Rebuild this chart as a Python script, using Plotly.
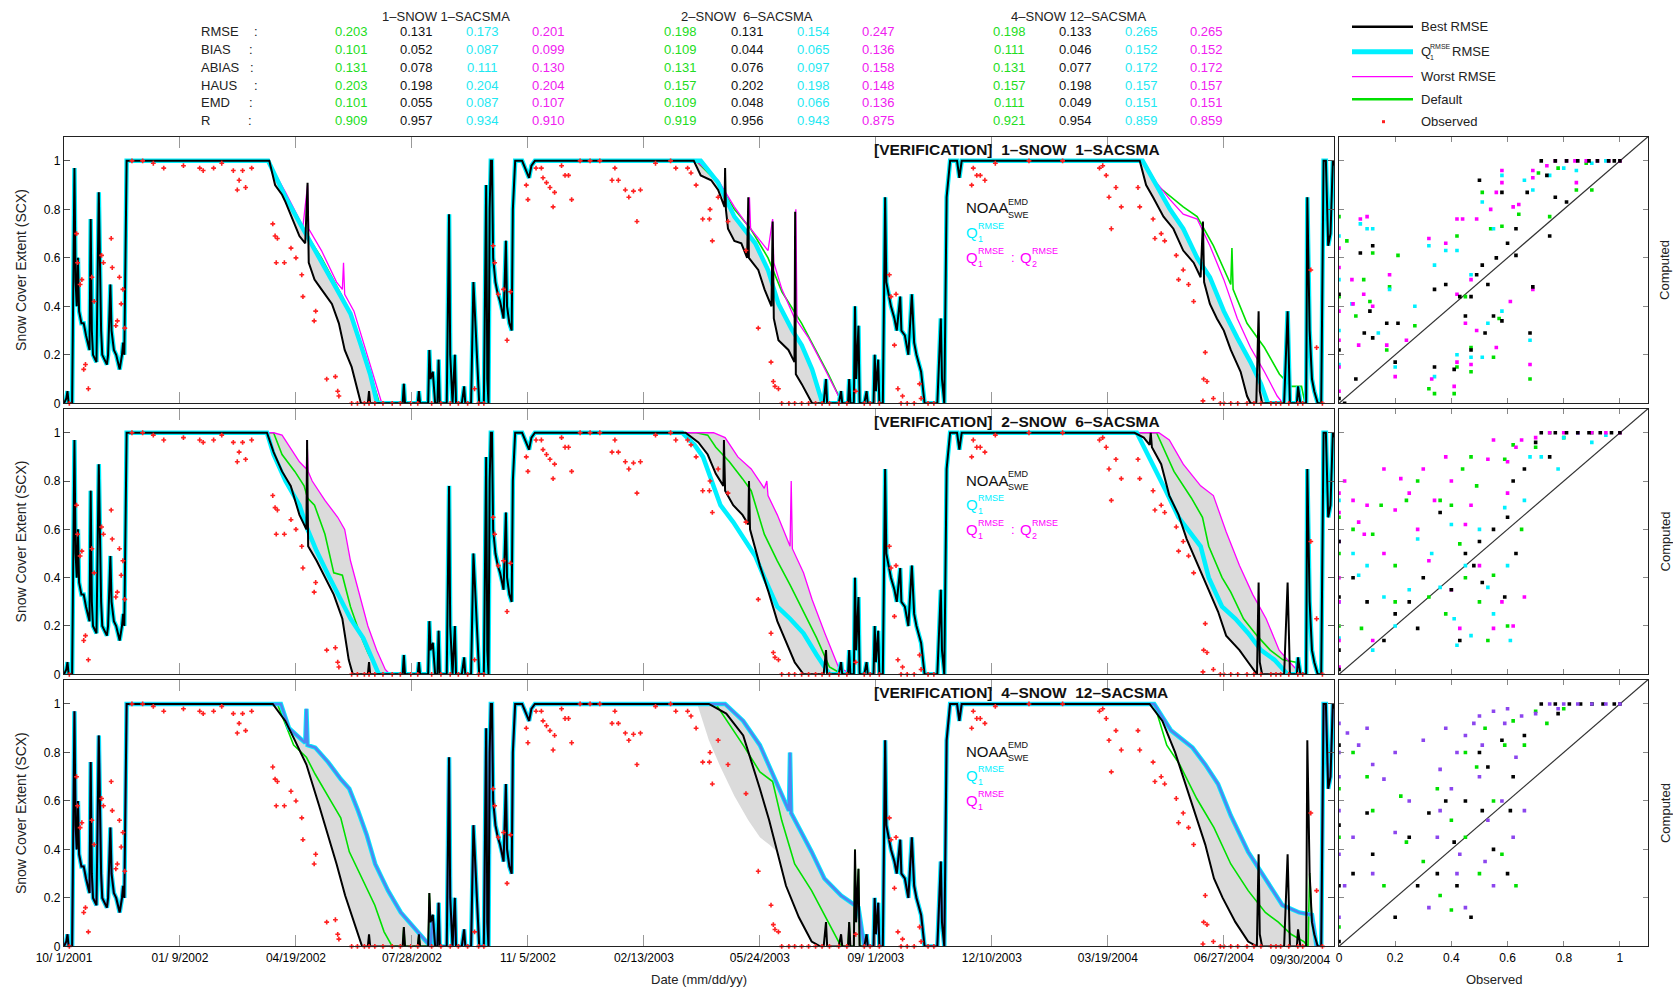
import plotly.graph_objects as go

W, H = 1673, 991
FONT = "Liberation Sans, Arial, sans-serif"

# ---------------- axis labels ----------------
tick_days = [0, 100, 200, 300, 400, 500, 600, 700, 800, 900, 1000, 1095]
tick_dates = ["10/ 1/2001", "01/ 9/2002", "04/19/2002", "07/28/2002", "11/ 5/2002", "02/13/2003",
              "05/24/2003", "09/ 1/2003", "12/10/2003", "03/19/2004", "06/27/2004", "09/30/2004"]
sc_ticks = [0, 0.2, 0.4, 0.6, 0.8, 1.0]
sc_tick_text = ["0", "0.2", "0.4", "0.6", "0.8", "1"]

# ---------------- header statistics ----------------
config_titles = ["1–SNOW 1–SACSMA", "2–SNOW&nbsp;&nbsp;6–SACSMA", "4–SNOW 12–SACSMA"]
stat_names = ["RMSE", "BIAS", "ABIAS", "HAUS", "EMD", "R"]
# order: RMSE, BIAS, ABIAS, HAUS, EMD, R
c1_default = [0.203, 0.101, 0.131, 0.203, 0.101, 0.909]
c1_best    = [0.131, 0.052, 0.078, 0.198, 0.055, 0.957]
c1_q1      = [0.173, 0.087, 0.111, 0.204, 0.087, 0.934]
c1_worst   = [0.201, 0.099, 0.130, 0.204, 0.107, 0.910]
c2_default = [0.198, 0.109, 0.131, 0.157, 0.109, 0.919]
c2_best    = [0.131, 0.044, 0.076, 0.202, 0.048, 0.956]
c2_q1      = [0.154, 0.065, 0.097, 0.198, 0.066, 0.943]
c2_worst   = [0.247, 0.136, 0.158, 0.148, 0.136, 0.875]
c3_default = [0.198, 0.111, 0.131, 0.157, 0.111, 0.921]
c3_best    = [0.133, 0.046, 0.077, 0.198, 0.049, 0.954]
c3_q1      = [0.265, 0.152, 0.172, 0.157, 0.151, 0.859]
c3_worst   = [0.265, 0.152, 0.172, 0.157, 0.151, 0.859]

# ---------------- time series (day since 10/1/2001, SCX) ----------------
# segments common to all simulations
fall01 = [(0, 0), (2, 0.02), (3, 0.05), (4, 0), (7, 0), (9, 0.97), (10, 0.5), (11, 0.4), (12, 0.6),
          (13, 0.38), (15, 0.33), (17, 0.33), (19, 0.28), (21, 0.24), (22, 0.22), (23, 0.76), (24, 0.3),
          (25, 0.2), (27, 0.18), (28, 0.17), (30, 0.87), (31, 0.45), (32, 0.3), (33, 0.2), (35, 0.18),
          (37, 0.16), (38, 0.2), (40, 0.49), (41, 0.3), (43, 0.22), (45, 0.2), (47, 0.16), (48, 0.14),
          (50, 0.2), (51, 0.25), (52, 0.2), (54, 1.0)]
summer02 = [(262, 0), (263, 0.05), (264, 0), (292, 0), (293, 0.08), (294, 0), (305, 0), (306, 0.05),
            (307, 0), (314, 0), (315, 0.22), (316, 0.1), (318, 0.13), (320, 0), (322, 0), (323, 0.18),
            (324, 0), (330, 0), (332, 0.78), (333, 0.2), (335, 0), (337, 0.2), (338, 0), (343, 0),
            (345, 0.07), (346, 0), (351, 0), (353, 0.5), (355, 0.3), (357, 0.1), (358, 0), (362, 0),
            (364, 0.9), (365, 0.1), (366, 0), (367, 0.8), (368, 1.0), (369, 1.0), (370, 0.6), (372, 0.5),
            (374, 0.45), (376, 0.42), (378, 0.38), (379, 0.35), (381, 0.67), (382, 0.4), (384, 0.33),
            (386, 0.3), (387, 0.8), (389, 1.0), (395, 1.0), (399, 0.95), (401, 0.93), (403, 0.98), (406, 1.0)]
summer03 = [(655, 0), (657, 0.1), (658, 0), (668, 0), (670, 0.05), (671, 0), (676, 0), (677, 0.1),
            (678, 0), (681, 0), (682, 0.4), (683, 0.1), (685, 0.32), (686, 0), (690, 0), (692, 0.05),
            (693, 0), (698, 0), (699, 0.2), (700, 0.05), (702, 0.18), (703, 0), (706, 0), (708, 0.85),
            (709, 0.5), (711, 0.45), (713, 0.4), (716, 0.35), (718, 0.3), (721, 0.44), (722, 0.3),
            (725, 0.28), (728, 0.2), (731, 0.45), (733, 0.25), (735, 0.2), (739, 0.13), (742, 0),
            (753, 0), (756, 0.35), (757, 0.1), (759, 0), (761, 0.85), (764, 1.0), (770, 1.0),
            (772, 0.93), (774, 1.0)]
summer04 = [(1028, 0), (1030, 0.38), (1031, 0.05), (1033, 0), (1052, 0), (1055, 0.38), (1057, 0),
            (1063, 0), (1064, 0.07), (1066, 0), (1071, 0), (1072, 0.85), (1074, 0.3), (1076, 0.1),
            (1078, 0.05), (1081, 0), (1084, 0), (1086, 1.0), (1088, 1.0), (1090, 0.65), (1092, 0.7),
            (1094, 1.0), (1095, 0.98)]

# ----- row 1 : 1-SNOW 1-SACSMA -----
r1_best_m02 = [(175, 1.0), (177, 1.0), (182, 0.9), (188, 0.86), (191, 0.83), (197, 0.76), (203, 0.69),
               (208, 0.66), (210, 0.91), (211, 0.58), (216, 0.51), (222, 0.47), (231, 0.41), (237, 0.33),
               (242, 0.22), (248, 0.15), (253, 0.05), (256, 0)]
r1_q1_m02 = [(176, 1.0), (179, 0.97), (191, 0.85), (206, 0.72), (222, 0.58), (237, 0.45), (247, 0.37),
             (256, 0.24), (264, 0.12), (270, 0)]
r1_worst_m02 = [(176, 1.0), (191, 0.87), (206, 0.73), (210, 0.9), (211, 0.72), (222, 0.63), (235, 0.5),
                (240, 0.47), (241, 0.58), (242, 0.45), (250, 0.38), (259, 0.24), (268, 0.1), (274, 0)]
r1_def_m02 = [(176, 1.0), (191, 0.85), (206, 0.72), (222, 0.6), (240, 0.44), (249, 0.35), (258, 0.22),
              (267, 0.08), (272, 0)]
r1_best_m03 = [(543, 1.0), (549, 0.94), (558, 0.92), (564, 0.88), (569.5, 0.81), (570, 0.97), (570.7, 0.8),
               (572.5, 0.72), (578, 0.67), (584, 0.66), (589, 0.6), (590, 0.85), (590.5, 0.6), (598.6, 0.55),
               (604, 0.47), (610, 0.4), (611, 0.75), (612, 0.35), (616, 0.26), (624.6, 0.22), (629.8, 0.17),
               (630.4, 0.79), (631, 0.12), (636, 0.08), (645, 0)]
r1_q1_m03 = [(543.5, 1.0), (549, 1.0), (564, 0.91), (578, 0.77), (596, 0.66), (607, 0.55), (616, 0.41),
             (628, 0.3), (636, 0.24), (645, 0.14), (654, 0)]
r1_worst_m03 = [(545, 1.0), (564, 0.92), (578, 0.81), (590, 0.73), (591, 0.85), (592, 0.72), (607, 0.63),
                (611, 0.76), (612, 0.58), (619, 0.47), (630, 0.35), (631, 0.8), (632, 0.34), (642, 0.27),
                (654, 0.16), (665, 0.06), (671, 0)]
r1_def_m03 = [(545, 1.0), (564, 0.91), (578, 0.8), (592, 0.72), (607, 0.6), (619, 0.46), (636, 0.33),
              (647, 0.23), (659, 0.12), (671, 0)]
r1_best_m04 = [(927.5, 1.0), (933, 0.9), (939, 0.85), (948, 0.77), (956.5, 0.72), (965, 0.63), (974, 0.58),
               (980, 0.52), (982, 0.75), (983, 0.5), (988, 0.41), (994, 0.35), (1000, 0.3), (1006, 0.22),
               (1014.5, 0.13), (1020, 0.03), (1023, 0)]
r1_q1_m04 = [(930, 1.0), (942, 0.9), (953.6, 0.8), (965, 0.72), (977, 0.6), (988, 0.52), (1000, 0.38),
             (1011.6, 0.27), (1023, 0.17), (1032, 0.08), (1038, 0)]
r1_worst_m04 = [(930, 1.0), (942, 0.91), (953.6, 0.84), (965, 0.78), (977, 0.76), (988, 0.65), (1000, 0.51),
                (1011.6, 0.35), (1023, 0.23), (1035, 0.13), (1046, 0.03), (1051, 0)]
r1_def_m04 = [(930, 1.0), (942, 0.9), (965, 0.81), (977, 0.77), (991, 0.65), (1006, 0.49), (1007, 0.64),
              (1008, 0.47), (1020, 0.33), (1035, 0.23), (1048, 0.12), (1058, 0.07), (1067, 0.07), (1070, 0)]

# ----- row 2 : 2-SNOW 6-SACSMA -----
r2_best_m02 = [(175, 1.0), (180.7, 0.92), (188, 0.84), (195.5, 0.78), (203, 0.66), (209, 0.6), (209.6, 0.97),
               (210.5, 0.53), (217.8, 0.47), (225, 0.4), (232.6, 0.33), (240, 0.23), (245.5, 0.06), (249, 0)]
r2_q1_m02 = [(175, 1.0), (180.7, 0.91), (191, 0.8), (203, 0.7), (210, 0.6), (217.8, 0.51), (229, 0.4),
             (240, 0.3), (247, 0.23), (258, 0.15), (267, 0.05), (271.5, 0)]
r2_worst_m02 = [(180.7, 1.0), (188, 0.99), (203, 0.88), (209, 0.85), (209.6, 0.97), (210.5, 0.84), (214, 0.8),
                (225, 0.72), (236, 0.65), (242, 0.6), (247, 0.47), (255, 0.33), (262, 0.2), (269.6, 0.1),
                (277, 0.02), (281, 0)]
r2_def_m02 = [(180.7, 1.0), (188, 0.91), (199, 0.84), (207, 0.78), (210, 0.73), (216, 0.7), (225, 0.58),
              (232.6, 0.42), (240, 0.41), (247, 0.28), (255, 0.17), (262, 0.09), (269.6, 0.02), (273, 0)]
r2_best_m03 = [(536, 1.0), (547, 0.96), (555, 0.91), (562, 0.83), (568.5, 0.78), (569, 0.97), (570, 0.76),
               (577, 0.7), (585, 0.66), (590, 0.62), (590.6, 0.8), (591.5, 0.6), (600, 0.45), (607.5, 0.34),
               (615, 0.22), (622.6, 0.13), (630, 0.05), (637.6, 0)]
r2_q1_m03 = [(533, 1.0), (543.6, 0.95), (551, 0.9), (558.6, 0.8), (566, 0.7), (577, 0.63), (588.7, 0.54),
             (596, 0.49), (603.8, 0.4), (615, 0.28), (626, 0.23), (637.6, 0.17), (649, 0.08), (660, 0)]
r2_worst_m03 = [(560, 1.0), (570, 0.98), (581, 0.9), (592.5, 0.85), (603.8, 0.77), (606, 0.8), (607, 0.74),
                (615, 0.66), (626, 0.53), (627, 0.8), (628, 0.52), (637.6, 0.42), (645, 0.31), (656, 0.17),
                (667.7, 0.03), (679, 0)]
r2_def_m03 = [(545, 1.0), (555, 0.99), (562, 0.94), (573.7, 0.88), (585, 0.81), (592.5, 0.76), (603.8, 0.58),
              (615, 0.47), (626, 0.37), (637.6, 0.26), (649, 0.15), (660, 0.03), (671, 0)]
r2_best_m04 = [(923, 1.0), (931, 0.98), (936, 0.95), (937, 1.0), (938, 0.94), (946, 0.87), (953, 0.74),
               (961, 0.66), (968, 0.56), (976, 0.47), (987, 0.35), (995, 0.26), (1002, 0.16), (1013.5, 0.1),
               (1021, 0.05), (1028.6, 0)]
r2_q1_m04 = [(925, 1.0), (938, 0.88), (950, 0.76), (961, 0.65), (972, 0.58), (980, 0.53), (987, 0.4),
             (998.5, 0.28), (1010, 0.23), (1021, 0.17), (1032, 0.1), (1043.6, 0.06), (1055, 0)]
r2_worst_m04 = [(944, 1.0), (953, 0.97), (965, 0.87), (980, 0.78), (991, 0.74), (1002, 0.59), (1013.5, 0.45),
                (1025, 0.33), (1036.5, 0.23), (1047.7, 0.1), (1055, 0.06), (1062.6, 0.02), (1068, 0)]
r2_def_m04 = [(942, 1.0), (957, 0.84), (972, 0.73), (981.6, 0.65), (987, 0.53), (998.5, 0.4), (1006, 0.34),
              (1017, 0.23), (1028.6, 0.16), (1040, 0.1), (1051, 0.06), (1062, 0.05), (1066, 0)]

# ----- row 3 : 4-SNOW 12-SACSMA (Q1 run is also the worst run) -----
r3_best_m02 = [(180, 1.0), (190.8, 0.93), (198, 0.86), (209, 0.75), (220, 0.58), (227.7, 0.46), (235, 0.34),
               (242.4, 0.21), (250, 0.1), (257, 0)]
r3_q1_m02 = [(187, 1.0), (194, 0.9), (205.5, 0.85), (208, 0.84), (209, 0.98), (210, 0.83), (216.6, 0.82),
             (227.7, 0.76), (238.6, 0.69), (246, 0.65), (253.5, 0.56), (261, 0.46), (268.3, 0.34),
             (279.4, 0.23), (290.4, 0.14), (305, 0.06), (316, 0)]
r3_def_m02 = [(184, 1.0), (198, 0.83), (209, 0.78), (216.6, 0.71), (230, 0.6), (238.6, 0.53), (246, 0.39),
              (257, 0.28), (268, 0.17), (276, 0.06), (283, 0)]
r3_best_m03 = [(556, 1.0), (571, 0.96), (585.6, 0.87), (593, 0.76), (600, 0.65), (608, 0.52), (615, 0.39),
               (622.5, 0.25), (633.6, 0.12), (644.6, 0.02), (652, 0)]
r3_q1_m03 = [(570, 1.0), (585.6, 0.93), (600, 0.83), (611, 0.71), (622.5, 0.58), (625, 0.56), (626, 0.8),
             (627, 0.55), (633.6, 0.49), (644.6, 0.39), (655.6, 0.28), (670, 0.21), (685, 0.16), (690, 0)]
r3_def_m03 = [(562, 1.0), (585.6, 0.83), (600, 0.72), (611, 0.68), (618.8, 0.52), (630, 0.34), (644.6, 0.23),
              (659, 0.1), (670, 0)]
r3_early_m03 = [(546, 1.0), (556, 0.85), (566, 0.74), (578, 0.62), (590, 0.52), (600, 0.45), (608, 0.42),
                (615, 0.39), (622.5, 0.25), (633.6, 0.12), (644.6, 0.02), (652, 0)]
r3_best_m04 = [(936, 1.0), (947, 0.93), (958, 0.8), (965.6, 0.69), (973, 0.58), (984, 0.42), (991.5, 0.28),
               (999, 0.2), (1010, 0.1), (1021, 0.02), (1028.5, 0)]
r3_q1_m04 = [(940, 1.0), (954.6, 0.89), (973, 0.82), (984, 0.75), (995, 0.67), (1006, 0.54), (1021, 0.39),
             (1035.8, 0.28), (1050.5, 0.17), (1065, 0.14), (1076, 0.13), (1080, 0)]
r3_def_m04 = [(940, 1.0), (950.8, 0.83), (962, 0.75), (976.6, 0.61), (991.5, 0.49), (1006, 0.34),
              (1021, 0.23), (1035.8, 0.14), (1047, 0.1), (1058, 0.05), (1069, 0.02), (1072.6, 0)]

# ----- observed SCX (same for every row) -----
observed = [(4.6, 0), (10.8, 0.70), (11.7, 0.58), (13.9, 0.49), (15.4, 0.51), (17, 0.14), (18.5, 0.16),
            (21, 0.06), (24, 0.52), (26, 0.42), (32.4, 0.61), (34, 0.58), (40.7, 0.68), (41.6, 0.56),
            (44.7, 0.32), (46, 0.34), (47.8, 0.52), (49.3, 0.41), (50.8, 0.47), (52.4, 0.31),
            (58.6, 1.0), (67.8, 1.0), (77, 0.99), (86, 0.97), (103, 0.98), (117, 0.97), (120, 0.96),
            (129, 0.97), (136, 0.99), (146, 0.96), (149.4, 0.88), (151, 0.92), (154, 0.96), (156.6, 0.89),
            (161.8, 0.97), (180, 0.74), (182, 0.69), (183, 0.58), (184, 0.68), (190, 0.58), (195.7, 0.64),
            (200, 0.6), (205, 0.53), (206, 0.44), (215.7, 0.34), (217, 0.38), (226.5, 0.10), (234, 0.11),
            (236, 0.05), (237, 0.03), (248, 0), (253, 0), (259, 0), (263, 0), (268, 0), (275, 0), (283, 0),
            (290, 0), (299, 0), (305, 0), (317, 0), (325, 0), (333, 0), (340, 0), (348, 0), (354, 0.06),
            (357.5, 0), (362, 0), (370, 0.65), (371.3, 0.58), (374.4, 0.45), (379, 0.47), (382, 0.26),
            (385, 0.46), (398.6, 0.9), (400, 0.84), (407, 0.97), (411.6, 0.97), (413, 0.93), (416, 0.91),
            (419, 0.89), (421.7, 0.81), (423, 0.87), (429, 0.98), (432, 0.94), (435, 0.94), (437.7, 0.84),
            (445, 1), (453.6, 1), (462, 1), (472.5, 0.92), (475, 0.97), (478, 0.92), (484, 0.88),
            (487, 0.85), (491, 0.875), (494, 0.75), (497, 0.88), (510, 0.99), (523, 1), (527.5, 0.97),
            (537.7, 0.97), (540.6, 0.95), (545, 0.9), (550.7, 0.76), (556.5, 0.76), (557, 0.8), (559, 0.67),
            (564, 0.85), (572.5, 0.75), (588, 0.63), (598.6, 0.31), (609.6, 0.17), (611.6, 0.09), (613, 0.07),
            (616, 0.06), (618.8, 0), (625, 0), (630, 0), (636, 0), (642, 0), (648, 0), (653.6, 0), (660, 0),
            (668, 0), (675, 0), (682.6, 0.05), (690, 0), (695, 0), (703, 0), (711.6, 0.53), (713, 0.44),
            (716, 0.24), (717.4, 0.45), (719, 0.06), (721.7, 0), (723, 0.03), (727, 0), (733, 0),
            (737.7, 0.08), (739, 0.02), (745, 0), (750, 0), (782.6, 0.9), (784, 0.97), (787, 0.94),
            (790, 0.94), (794, 0.92), (803, 0.99), (832, 1), (861, 1), (892.8, 0.97), (895.6, 0.98),
            (898.6, 0.94), (901, 0.85), (903, 0.72), (907, 0.89), (911.6, 0.81), (926, 0.89), (927.5, 0.81),
            (939, 0.76), (940.6, 0.68), (946, 0.7), (949, 0.67), (959, 0.61), (961, 0.51), (965, 0.55),
            (969.6, 0.49), (974, 0.42), (982, 0.01), (982.6, 0.1), (984, 0.21), (985.5, 0.09), (991, 0.02),
            (997, 0), (1000, 0), (1006, 0), (1012, 0), (1020, 0), (1026, 0), (1032, 0), (1040.6, 0),
            (1045, 0), (1049, 0), (1056, 0), (1063.8, 0), (1068, 0), (1075, 0.55), (1080, 0.23), (1085, 0)]

# ---------------- scatter (observed, computed) ----------------
r1_sc_worst = [(0.076, 0.76), (0.1, 0.77), (0.046, 0.51), (0.05, 0.41), (0.088, 0.45), (0.18, 0.53), (0.12, 0.4),
               (0.17, 0.24), (0.2, 0.11), (0.07, 0.24), (0.32, 0.68), (0.38, 0.66), (0.42, 0.76), (0.44, 0.76),
               (0.49, 0.76), (0.56, 0.87), (0.58, 0.96), (0.58, 0.91), (0.62, 0.81), (0.64, 0.82), (0.69, 0.96),
               (0.69, 0.93), (0.74, 0.98), (0.81, 1.0), (0.845, 0.91), (0.69, 0.47), (0.61, 0.42), (0.56, 0.23),
               (0.68, 0.16), (0.49, 0.3), (0.47, 0.16), (0.42, 0.17), (0.41, 0.07), (0.33, 0.1), (0.45, 0.33),
               (0.47, 0.51), (0.42, 0.45), (0.24, 0.26), (0.54, 0.8), (0, 0.56), (0, 0.64), (0, 0.15), (0, 0.26),
               (0, 0.05), (0, 0.38), (0.84, 1.0), (0.88, 1.0), (0.92, 1.0), (0.96, 1.0), (1.0, 1.0), (0.77, 1.0)]
r1_sc_best = [(0.72, 1.0), (0.77, 1.0), (0.81, 1.0), (0.85, 1.0), (0.89, 1.0), (0.92, 1.0), (0.96, 1.0),
              (0.98, 1.0), (1.0, 1.0), (0.5, 0.92), (0.58, 0.87), (0.74, 0.94), (0.77, 0.85), (0.81, 0.83),
              (0.75, 0.69), (0.67, 0.87), (0.63, 0.72), (0.6, 0.66), (0.63, 0.61), (0.56, 0.6), (0.51, 0.57),
              (0.49, 0.53), (0.53, 0.49), (0.43, 0.44), (0.45, 0.36), (0.38, 0.49), (0.34, 0.47), (0.11, 0.38),
              (0.12, 0.65), (0.076, 0.62), (0.17, 0.33), (0.21, 0.33), (0.09, 0.29), (0.12, 0.27), (0.06, 0.1),
              (0.2, 0.17), (0.34, 0.15), (0.41, 0.14), (0.47, 0.22), (0.55, 0.36), (0.58, 0.34), (0.68, 0.29),
              (0.69, 0.48), (0.47, 0.44), (0.52, 0.29), (0, 0.22), (0, 0.02), (0.02, 0.0), (0, 0.45)]
r1_sc_q1 = [(0.076, 0.74), (0.1, 0.72), (0.12, 0.72), (0.046, 0.41), (0.18, 0.47), (0.14, 0.29), (0.2, 0.15),
            (0.27, 0.4), (0.32, 0.65), (0.34, 0.57), (0.38, 0.63), (0.42, 0.63), (0.47, 0.53), (0.51, 0.83),
            (0.55, 0.72), (0.58, 0.94), (0.58, 0.38), (0.66, 0.92), (0.69, 0.88), (0.75, 0.94), (0.8, 0.97),
            (0.845, 0.96), (0.68, 0.26), (0.53, 0.33), (0.51, 0.19), (0.47, 0.19), (0.42, 0.2), (0.34, 0.11),
            (0, 0.69), (0, 0.51), (0, 0.3), (0, 0.16), (0.9, 0.99), (0.95, 1.0)]
r1_sc_def = [(0.028, 0.67), (0.12, 0.62), (0.088, 0.51), (0.18, 0.48), (0.21, 0.61), (0.06, 0.36), (0.11, 0.42),
             (0.17, 0.22), (0.27, 0.32), (0.42, 0.69), (0.51, 0.87), (0.54, 0.72), (0.58, 0.73), (0.64, 0.78),
             (0.71, 0.95), (0.75, 0.77), (0.845, 0.88), (0.9, 0.88), (0.57, 0.35), (0.68, 0.1), (0.55, 0.19),
             (0.47, 0.23), (0.42, 0.15), (0.34, 0.04), (0.32, 0.06), (0.41, 0.04), (0.47, 0.13), (0.45, 0.44),
             (0, 0.77), (0, 0.44), (0.78, 0.97), (0.88, 0.99)]
r2_sc_worst = [(0.16, 0.85), (0.22, 0.81), (0.34, 0.72), (0.47, 0.7), (0.53, 0.89), (0.55, 0.97), (0.63, 0.94),
               (0.7, 0.98), (0.02, 0.8), (0, 0.67), (0.07, 0.63), (0.16, 0.5), (0.32, 0.47), (0.43, 0.19),
               (0.55, 0.19), (0.66, 0.32), (0.12, 0.14), (0, 0.14), (0, 0.03), (0.75, 1), (0.8, 1), (0.85, 1),
               (0.9, 1), (0.95, 1), (1, 1), (0.4, 0.8), (0.45, 0.62), (0.6, 0.75), (0.28, 0.6), (0.1, 0.7),
               (0, 0.4), (0, 0.75), (0, 0.55), (0, 0.3), (0.05, 0.72), (0.09, 0.58), (0.2, 0.68), (0.25, 0.75),
               (0.3, 0.85), (0.38, 0.9), (0.6, 0.88), (0.65, 0.97), (0.5, 0.45), (0.58, 0.3), (0.62, 0.2),
               (0.4, 0.35)]
r2_sc_def = [(0.24, 0.72), (0.36, 0.72), (0.44, 0.85), (0.49, 0.78), (0.59, 0.89), (0.7, 0.94), (0.12, 0.58),
             (0.2, 0.45), (0.32, 0.32), (0.43, 0.54), (0.55, 0.41), (0.53, 0.14), (0, 0.5), (0.08, 0.19),
             (0.8, 0.98), (0.9, 1), (0.65, 0.6), (0.38, 0.25), (0, 0.2), (0, 0.65), (0.05, 0.6), (0.15, 0.7),
             (0.28, 0.8), (0.4, 0.7), (0.47, 0.9), (0.62, 0.95), (0.5, 0.3), (0.6, 0.2), (0.45, 0.4), (0.2, 0.3),
             (0.75, 1)]
r2_sc_q1 = [(0, 0.72), (0.07, 0.41), (0.16, 0.32), (0.28, 0.56), (0.36, 0.36), (0.41, 0.23), (0.47, 0.16),
            (0.53, 0.36), (0.59, 0.69), (0.66, 0.72), (0.78, 0.85), (0.9, 0.96), (0.61, 0.14), (0.12, 0.1),
            (0.45, 0.45), (0.5, 0.6), (0, 0.3), (0.2, 0.2), (0.72, 0.9), (0.95, 0.99), (0, 0.55), (0, 0.15),
            (0.05, 0.5), (0.1, 0.45), (0.25, 0.35), (0.33, 0.5), (0.4, 0.62), (0.55, 0.25), (0.6, 0.45),
            (0.68, 0.9), (0.8, 0.98), (0.85, 1), (0.42, 0.12)]
r2_sc_best = [(0.7, 0.96), (0.72, 1), (0.77, 1), (0.81, 1), (0.85, 1), (0.89, 1), (0.93, 1), (0.97, 1), (1, 1),
              (0.36, 0.67), (0.45, 0.5), (0.51, 0.38), (0.59, 0.32), (0.16, 0.14), (0.28, 0.19), (0.43, 0.14),
              (0.63, 0.5), (0, 0.32), (0, 0.1), (0, 0.02), (0.55, 0.6), (0.48, 0.45), (0.1, 0.3), (0.66, 0.85),
              (0.3, 0.4), (0.05, 0.4), (0.2, 0.25), (0.25, 0.3), (0.4, 0.35), (0.5, 0.55), (0.6, 0.65),
              (0.62, 0.8), (0.75, 0.9), (0, 0.55)]
r3_sc_q1 = [(0, 0.92), (0.07, 0.83), (0.16, 0.69), (0.36, 0.73), (0.45, 0.87), (0.51, 0.83), (0.59, 0.92),
            (0.63, 0.78), (0.7, 0.96), (0.78, 0.98), (0.36, 0.56), (0.2, 0.47), (0.53, 0.52), (0.66, 0.56),
            (0, 0.56), (0, 0.38), (0, 0.12), (0.12, 0.3), (0.43, 0.38), (0.32, 0.16), (0.45, 0.16), (0.55, 0.25),
            (0.75, 1), (0.8, 1), (0.85, 1), (0.9, 1), (0.95, 1), (1, 1), (0.5, 0.95), (0.4, 0.65), (0, 0.7),
            (0, 0.8), (0.03, 0.88), (0.1, 0.9), (0.12, 0.75), (0.2, 0.8), (0.25, 0.6), (0.3, 0.85), (0.38, 0.9),
            (0.42, 0.8), (0.48, 0.92), (0.55, 0.97), (0.6, 0.98), (0.65, 0.95), (0.5, 0.7), (0.58, 0.6),
            (0.42, 0.3), (0.52, 0.35), (0.62, 0.45), (0.35, 0.45), (0.05, 0.45), (0.02, 0.25)]
r3_sc_def = [(0.12, 0.56), (0.24, 0.43), (0.4, 0.52), (0.49, 0.74), (0.59, 0.83), (0.66, 0.83), (0.74, 0.92),
             (0, 0.65), (0.16, 0.25), (0.36, 0.21), (0.63, 0.25), (0, 0.08), (0.8, 0.98), (0.9, 1), (0.55, 0.6),
             (0.3, 0.35), (0, 0.45), (0.05, 0.8), (0.1, 0.7), (0.22, 0.62), (0.35, 0.65), (0.45, 0.8),
             (0.52, 0.9), (0.62, 0.93), (0.45, 0.45), (0.5, 0.3), (0.58, 0.38), (0.4, 0.15), (0.7, 0.97)]
r3_sc_best = [(0, 0.83), (0.12, 0.38), (0.28, 0.25), (0.41, 0.43), (0.51, 0.56), (0.61, 0.56), (0.53, 0.74),
              (0.66, 0.87), (0.78, 0.96), (0, 0.25), (0.2, 0.12), (0.47, 0.12), (0.72, 1), (0.77, 1), (0.82, 1),
              (0.86, 1), (0.9, 1), (0.94, 1), (0.98, 1), (1, 1), (0.45, 0.6), (0.35, 0.3), (0, 0.02), (0, 0.5),
              (0.05, 0.3), (0.1, 0.55), (0.25, 0.45), (0.32, 0.55), (0.38, 0.6), (0.5, 0.8), (0.58, 0.85),
              (0.62, 0.7), (0.55, 0.4), (0.42, 0.25), (0.6, 0.3)]

# ---------------- styling ----------------
C_BEST, C_Q1, C_WORST, C_DEF, C_OBS = "#000000", "#00f0ff", "#ff00ff", "#00e000", "#ff2020"
C_BLUE, C_GRAY = "#4f86f0", "rgba(175,175,175,0.45)"
T_GREEN, T_CYAN, T_MAG = "#22dd22", "#1ee8f2", "#f020f0"

LEFT_X = [64 / W, 1334 / W]
SC_X = [1339 / W, 1648 / W]
ROW_PX = [(136.6, 403.3), (408.6, 674.3), (679.7, 946.4)]


def join(*segs):
    out = []
    for s in segs:
        for d, v in s:
            if not out or d > out[-1][0]:
                out.append((d, v))
    return out


def xs(p):
    return [a for a, _ in p]


def ys(p):
    return [b for _, b in p]


def band(left, right):
    return xs(left) + xs(right)[::-1], ys(left) + ys(right)[::-1]


rows = [
    dict(best=(r1_best_m02, r1_best_m03, r1_best_m04), q1=(r1_q1_m02, r1_q1_m03, r1_q1_m04),
         worst=(r1_worst_m02, r1_worst_m03, r1_worst_m04), dflt=(r1_def_m02, r1_def_m03, r1_def_m04),
         bands=[(r1_best_m02, r1_q1_m02), (r1_best_m03, r1_q1_m03), (r1_best_m04, r1_q1_m04)],
         sc=[(r1_sc_def, C_DEF), (r1_sc_q1, C_Q1), (r1_sc_worst, C_WORST), (r1_sc_best, C_BEST)],
         title="1–SNOW&nbsp;&nbsp;1–SACSMA", q3=False),
    dict(best=(r2_best_m02, r2_best_m03, r2_best_m04), q1=(r2_q1_m02, r2_q1_m03, r2_q1_m04),
         worst=(r2_worst_m02, r2_worst_m03, r2_worst_m04), dflt=(r2_def_m02, r2_def_m03, r2_def_m04),
         bands=[(r2_best_m02, r2_worst_m02), (r2_best_m03, r2_worst_m03), (r2_best_m04, r2_worst_m04)],
         sc=[(r2_sc_def, C_DEF), (r2_sc_q1, C_Q1), (r2_sc_worst, C_WORST), (r2_sc_best, C_BEST)],
         title="2–SNOW&nbsp;&nbsp;6–SACSMA", q3=False),
    dict(best=(r3_best_m02, r3_best_m03, r3_best_m04), q1=(r3_q1_m02, r3_q1_m03, r3_q1_m04),
         worst=(r3_q1_m02, r3_q1_m03, r3_q1_m04), dflt=(r3_def_m02, r3_def_m03, r3_def_m04),
         bands=[(r3_best_m02, r3_q1_m02), (r3_early_m03, r3_q1_m03), (r3_best_m04, r3_q1_m04)],
         sc=[(r3_sc_def, C_DEF), (r3_sc_best, C_BEST), (r3_sc_q1, "#8c46ee")],
         title="4–SNOW&nbsp;&nbsp;12–SACSMA", q3=True),
]

fig = go.Figure()
layout = dict(width=W, height=H, margin=dict(l=0, r=0, t=0, b=0, pad=0, autoexpand=False),
              paper_bgcolor="white", plot_bgcolor="white", showlegend=False,
              font=dict(family=FONT, size=12, color="black"))


def axname(n):
    return "" if n == 1 else str(n)


for i, row in enumerate(rows):
    ts, sc = 2 * i + 1, 2 * i + 2
    xa, ya = "x" + axname(ts), "y" + axname(ts)
    xs_, ys_ = "x" + axname(sc), "y" + axname(sc)
    top, bot = ROW_PX[i]
    ydom = [1 - bot / H, 1 - top / H]

    # ensemble envelope
    for lft, rgt in row["bands"]:
        bx, by = band(lft, rgt)
        fig.add_trace(go.Scatter(x=bx, y=by, fill="toself", fillcolor=C_GRAY, mode="lines",
                                 line=dict(width=0, color=C_GRAY), xaxis=xa, yaxis=ya, hoverinfo="skip"))

    def full(m):
        return join(fall01, m[0], summer02, m[1], summer03, m[2], summer04)

    s_def, s_worst, s_q1, s_best = full(row["dflt"]), full(row["worst"]), full(row["q1"]), full(row["best"])
    fig.add_trace(go.Scatter(x=xs(s_def), y=ys(s_def), mode="lines", line=dict(color=C_DEF, width=1.6),
                             xaxis=xa, yaxis=ya))
    if not row["q3"]:
        fig.add_trace(go.Scatter(x=xs(s_worst), y=ys(s_worst), mode="lines",
                                 line=dict(color=C_WORST, width=1.3), xaxis=xa, yaxis=ya))
        fig.add_trace(go.Scatter(x=xs(s_q1), y=ys(s_q1), mode="lines", line=dict(color=C_Q1, width=4.5),
                                 xaxis=xa, yaxis=ya))
    else:
        fig.add_trace(go.Scatter(x=xs(s_q1), y=ys(s_q1), mode="lines", line=dict(color=C_Q1, width=4.5),
                                 xaxis=xa, yaxis=ya))
        fig.add_trace(go.Scatter(x=xs(s_worst), y=ys(s_worst), mode="lines",
                                 line=dict(color=C_BLUE, width=2.6), xaxis=xa, yaxis=ya))
    fig.add_trace(go.Scatter(x=xs(s_best), y=ys(s_best), mode="lines", line=dict(color=C_BEST, width=2.0),
                             xaxis=xa, yaxis=ya))
    fig.add_trace(go.Scatter(x=xs(observed), y=ys(observed), mode="markers",
                             marker=dict(symbol="cross", size=4, color=C_OBS, line=dict(width=0)),
                             xaxis=xa, yaxis=ya, cliponaxis=False))

    # scatter panel
    fig.add_trace(go.Scatter(x=[0, 1.1], y=[0, 1.1], mode="lines", line=dict(color="#333", width=1.2),
                             xaxis=xs_, yaxis=ys_))
    for pts, col in row["sc"]:
        fig.add_trace(go.Scatter(x=xs(pts), y=ys(pts), mode="markers",
                                 marker=dict(symbol="square", size=3.6, color=col, line=dict(width=0)),
                                 xaxis=xs_, yaxis=ys_))

    last = (i == 2)
    layout["xaxis" + axname(ts)] = dict(
        domain=LEFT_X, range=[0, 1095], anchor=ya, tickmode="array", tickvals=tick_days[:-1],
        ticktext=tick_dates[:-1], showticklabels=last, ticks="inside", ticklen=11, tickcolor="#999",
        tickwidth=1.4, mirror="ticks", showline=True, linecolor="#222", linewidth=1.3, showgrid=False,
        zeroline=False, tickfont=dict(size=12), automargin=False)
    layout["yaxis" + axname(ts)] = dict(
        domain=ydom, range=[0, 1.1], anchor=xa, tickmode="array", tickvals=sc_ticks, ticktext=sc_tick_text,
        ticks="inside", ticklen=6, tickcolor="#555", mirror="ticks", showline=True, linecolor="#222",
        linewidth=1.3, showgrid=False, zeroline=False, tickfont=dict(size=12), automargin=False)
    layout["xaxis" + axname(sc)] = dict(
        domain=SC_X, range=[0, 1.1], anchor=ys_, tickmode="array", tickvals=sc_ticks, ticktext=sc_tick_text,
        showticklabels=last, ticks="inside", ticklen=5, tickcolor="#888", mirror="ticks", showline=True,
        linecolor="#222", linewidth=1.3, showgrid=False, zeroline=False, tickfont=dict(size=12),
        automargin=False)
    layout["yaxis" + axname(sc)] = dict(
        domain=ydom, range=[0, 1.1], anchor=xs_, tickmode="array", tickvals=sc_ticks, showticklabels=False,
        ticks="inside", ticklen=5, tickcolor="#888", mirror="ticks", showline=True, linecolor="#222",
        linewidth=1.3, showgrid=False, zeroline=False, automargin=False)

annotations = []
shapes = []


def T(x, y, text, size=13, color="black", xanchor="center", yanchor="middle", angle=0):
    annotations.append(dict(x=x / W, y=1 - y / H, xref="paper", yref="paper", text=text, showarrow=False,
                            font=dict(size=size, color=color, family=FONT), xanchor=xanchor,
                            yanchor=yanchor, textangle=angle, borderpad=0))


def sym(x, y, base, sup, sub, color, size=15, base_w=11):
    T(x, y, base, size=size, color=color, xanchor="left")
    T(x + base_w, y - 6, sup, size=round(size * 0.6), color=color, xanchor="left")
    T(x + base_w, y + 7, sub, size=round(size * 0.6), color=color, xanchor="left")


# last date label at the right end of the time axis (kept clear of the scatter "0")
T(1331, 960, tick_dates[-1], size=12, xanchor="right")

# header statistics table
row_y = [32, 50, 67.5, 85.5, 102.5, 120.5]
colon_x = [253, 248, 249, 253, 248, 247]
for j, nm in enumerate(stat_names):
    T(200, row_y[j], nm, xanchor="left", size=13, color="#222")
    T(colon_x[j], row_y[j], ":", xanchor="left", size=13, color="#222")
title_x = [446, 747, 1078]
col_x = [[351, 416, 482, 548.5], [680, 747, 813, 878], [1009, 1075.5, 1141.7, 1206.8]]
stat_sets = [(c1_default, c1_best, c1_q1, c1_worst), (c2_default, c2_best, c2_q1, c2_worst),
             (c3_default, c3_best, c3_q1, c3_worst)]
text_cols = [T_GREEN, "#111", T_CYAN, T_MAG]
for g in range(3):
    T(title_x[g], 16, config_titles[g], size=13, color="#222")
    for k in range(4):
        for j in range(6):
            T(col_x[g][k], row_y[j], f"{stat_sets[g][k][j]:.3f}", size=13, color=text_cols[k])

# legend (top right)
leg_y = [26.7, 51.7, 76.7, 99.3, 121.7]
for yy, col, wd in [(leg_y[0], C_BEST, 2.5), (leg_y[1], C_Q1, 5), (leg_y[2], C_WORST, 1.2), (leg_y[3], C_DEF, 2.5)]:
    shapes.append(dict(type="line", xref="paper", yref="paper", x0=1352 / W, x1=1413 / W, y0=1 - yy / H,
                       y1=1 - yy / H, line=dict(color=col, width=wd)))
shapes.append(dict(type="rect", xref="paper", yref="paper", x0=1382 / W, x1=1385 / W, y0=1 - 123.2 / H,
                   y1=1 - 120.2 / H, line=dict(width=0), fillcolor=C_OBS))
T(1420, leg_y[0], "Best RMSE", xanchor="left", size=13, color="#222")
T(1420, leg_y[1], "Q", xanchor="left", size=13, color="#222")
T(1429, leg_y[1] - 5, "RMSE", xanchor="left", size=7, color="#222")
T(1429, leg_y[1] + 6, "1", xanchor="left", size=7, color="#222")
T(1451, leg_y[1], "RMSE", xanchor="left", size=13, color="#222")
T(1420, leg_y[2], "Worst RMSE", xanchor="left", size=13, color="#222")
T(1420, leg_y[3], "Default", xanchor="left", size=13, color="#222")
T(1420, leg_y[4], "Observed", xanchor="left", size=13, color="#222")

# in-panel labels
for i, row in enumerate(rows):
    dy = ROW_PX[i][0] - ROW_PX[0][0]
    T(873, 149 + dy, "<b>[VERIFICATION]&nbsp;&nbsp;" + row["title"] + "</b>", size=15.5, xanchor="left",
      color="#111")
    sym(965, 208 + dy, "NOAA", "EMD", "SWE", "#111", size=15, base_w=42)
    sym(965, 232 + dy, "Q", "RMSE", "1", C_Q1, size=15, base_w=12)
    sym(965, 257 + dy, "Q", "RMSE", "1", C_WORST, size=15, base_w=12)
    if not row["q3"]:
        T(1010, 257 + dy, ":", size=13, color=C_WORST, xanchor="left")
        sym(1019, 257 + dy, "Q", "RMSE", "2", C_WORST, size=15, base_w=12)
    # axis titles
    T(21, (ROW_PX[i][0] + ROW_PX[i][1]) / 2, "Snow Cover Extent (SCX)", size=14, angle=-90, color="#222")
    T(1665, (ROW_PX[i][0] + ROW_PX[i][1]) / 2, "Computed", size=13, angle=-90, color="#222")

T(699, 979, "Date (mm/dd/yy)", size=13, color="#222")
T(1494, 979, "Observed", size=13, color="#222")

layout["annotations"] = annotations
layout["shapes"] = shapes
fig.update_layout(**layout)
fig.write_html("out.html")
